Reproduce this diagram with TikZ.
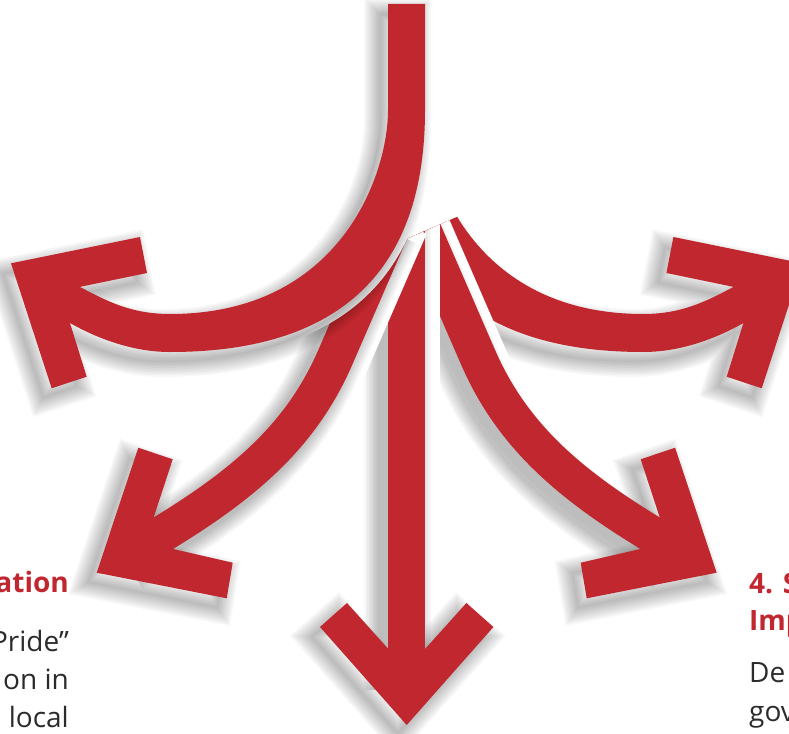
\documentclass[tikz,border=0pt]{standalone}
\usepackage{fontspec}
\setmainfont{Open Sans}
\definecolor{brandred}{HTML}{C1272F}
\definecolor{textgrey}{HTML}{2B2B2B}

% outlines of the bands, in pixels of the page (y grows downwards)
\newcommand{\jband}{(388,4) -- (425,4) -- (425,110) .. controls (425,280) and (330,352) .. (170,352)
  .. controls (135,352) and (100,340) .. (70,323) -- (50,312) -- (45,275) -- (80,287)
  .. controls (105,300) and (130,314) .. (170,314) .. controls (341,314) and (388,174) .. (388,110) -- cycle}
\newcommand{\jhead}{(140,237) -- (11,263.3) -- (51.7,388.3) -- (86.7,376.7) -- (60,291) -- (147,273) -- cycle}
\newcommand{\sidecurve}{(395,220) -- (335,358) .. controls (297,445) and (230,495) .. (135,550)}
\newcommand{\sidehead}{(138.3,447.7) -- (96.7,572.7) -- (226.7,598.3) -- (232.7,562.7) -- (145.4,542.6) -- (172.7,459.3) -- cycle}
\newcommand{\midline}{(406.7,200) -- (406.7,680)}
\newcommand{\midhead}{(347,603) -- (320,627) -- (406.7,725) -- (493.4,627) -- (466.4,603) -- (406.7,669.4) -- cycle}

\begin{document}
\begin{tikzpicture}[x=1pt, y=-1pt,
    dropshade/.style={black, opacity=0.028, shift={(#1,10)}},
    dropshade/.default=-9,
    lbl/.style={inner sep=0pt, text=brandred, font=\bfseries\fontsize{28}{32}\selectfont},
    txt/.style={inner sep=0pt, text=textgrey, font=\fontsize{28}{38}\selectfont}]
  \useasboundingbox (0,0) rectangle (789,733);
  \clip (0,0) rectangle (789,733);

  % lower four arrows share a V-shaped root
  \begin{scope}
    \clip (6.7,63) -- (406.7,239) -- (806.7,63) -- (806.7,740) -- (0,740) -- cycle;
    % right arrow (J mirrored)
    \begin{scope}[xshift=813.4, xscale=-1]
      \fill[dropshade=9] \jband \jhead;
      \foreach \k in {1,...,10} \draw[dropshade=9, line width=3*\k] \jband \jhead;
      \fill[brandred] \jband;
      \fill[brandred] \jhead;
    \end{scope}
    % lower right arrow
    \begin{scope}[xshift=813.4, xscale=-1]
      \draw[white, line width=57] \sidecurve;
      \fill[dropshade=9] \sidehead;
      \foreach \k in {1,...,10} \draw[dropshade=9, line width=37+3*\k] \sidecurve;
      \foreach \k in {1,...,10} \draw[dropshade=9, line width=3*\k] \sidehead;
      \draw[brandred, line width=37] \sidecurve;
      \fill[brandred] \sidehead;
    \end{scope}
    % straight down
    \draw[white, line width=67] \midline;
    \fill[dropshade] \midhead;
    \foreach \k in {1,...,10} \draw[dropshade, line width=37+3*\k] \midline;
    \foreach \k in {1,...,10} \draw[dropshade, line width=3*\k] \midhead;
    \draw[brandred, line width=37] \midline;
    \fill[brandred] \midhead;
    % lower left arrow
    \draw[white, line width=69] \sidecurve;
    \fill[dropshade] \sidehead;
    \foreach \k in {1,...,10} \draw[dropshade, line width=37+3*\k] \sidecurve;
    \foreach \k in {1,...,10} \draw[dropshade, line width=3*\k] \sidehead;
    \draw[brandred, line width=37] \sidecurve;
    \fill[brandred] \sidehead;
  \end{scope}

  % the trunk bending into the left arrow
  \draw[white, line width=14] \jband;
  \fill[dropshade] \jband \jhead;
  \foreach \k in {1,...,10} \draw[dropshade, line width=3*\k] \jband \jhead;
  \fill[brandred] \jband;
  \fill[brandred] \jhead;

  % cut-off text at both sides
  \node[lbl, anchor=base east] (headl) at (69,592) {ation};
  \node[txt, anchor=base east] (left1) at (69,651) {“Pride”};
  \node[txt, anchor=base east] (left2) at (69,689) {on in};
  \node[txt, anchor=base east] (left3) at (69,727) {local};
  \node[lbl, anchor=base west] (headr1) at (749,593) {4. S};
  \node[lbl, anchor=base west] (headr2) at (749,630) {Imp};
  \node[txt, anchor=base west] (right1) at (749,682) {De};
  \node[txt, anchor=base west] (right2) at (749,721) {gov};
\end{tikzpicture}
\end{document}
